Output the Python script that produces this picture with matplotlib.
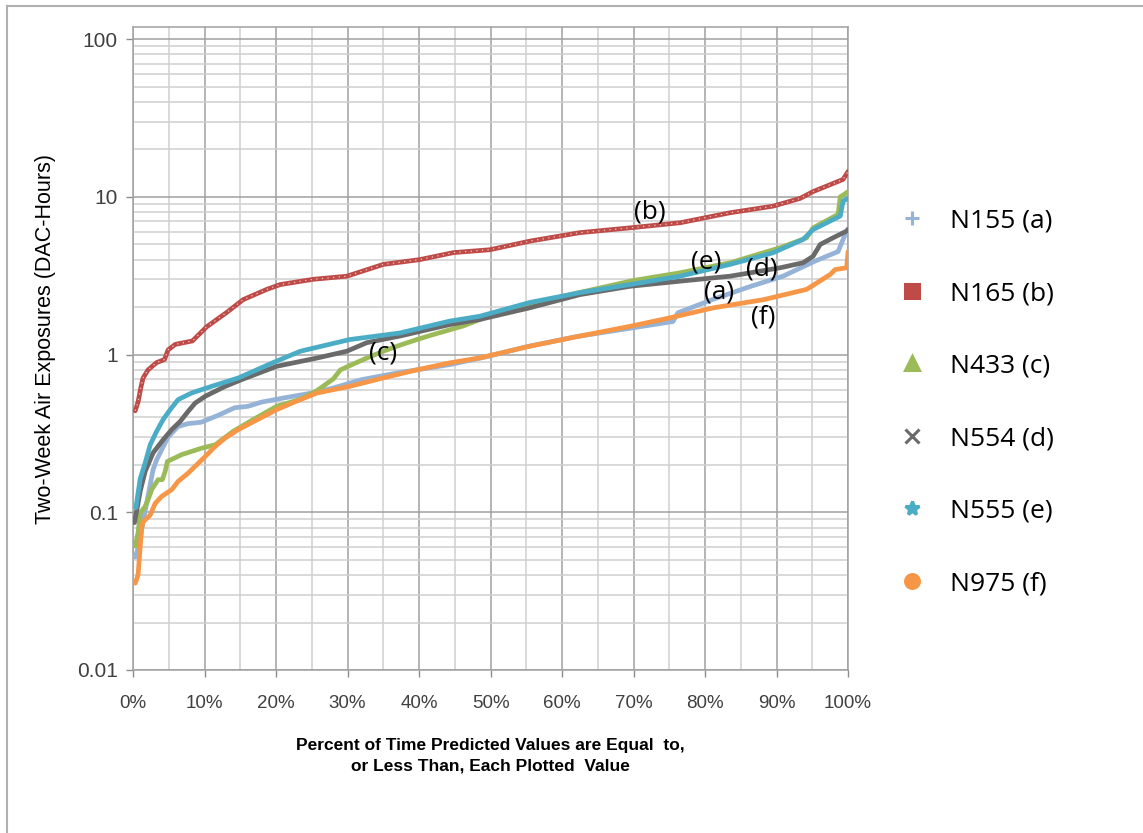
import numpy as np
import matplotlib
matplotlib.use("Agg")
from matplotlib import pyplot as plt
from matplotlib.lines import Line2D
from matplotlib.ticker import MultipleLocator, PercentFormatter, LogLocator, NullFormatter

# percent of time (x) and two-week exposure (y)
a_x = [0.3, 0.7, 1.0, 1.2, 2.8, 3.3, 4.9, 6.3, 7.7, 9.5, 11.8, 14.2, 16.1, 18.0, 21.0, 25.0, 28.0,
       32.0, 37.0, 44.3, 49.5, 55.0, 62.0, 70.0, 75.5, 76.2, 81.0, 86.4, 90.9, 95.3, 98.6, 99.6, 100]
a_y = [0.052, 0.059, 0.067, 0.078, 0.186, 0.215, 0.30, 0.35, 0.365, 0.372, 0.41, 0.46, 0.47, 0.50,
       0.53, 0.57, 0.614, 0.694, 0.765, 0.864, 0.97, 1.12, 1.30, 1.48, 1.62, 1.84, 2.23, 2.71, 3.14,
       3.9, 4.5, 5.8, 6.3]

b_x = [0.3, 0.7, 1.1, 1.4, 2.1, 3.3, 4.4, 4.9, 5.9, 8.3, 10.3, 13.1, 15.4, 18.7, 20.6, 25.2, 29.9,
       35.0, 40.1, 44.8, 49.9, 55.5, 62.5, 69.5, 76.5, 83.5, 89.5, 93.3, 95.1, 99.3, 100]
b_y = [0.44, 0.50, 0.62, 0.71, 0.80, 0.89, 0.93, 1.07, 1.16, 1.22, 1.50, 1.85, 2.23, 2.59, 2.78,
       3.0, 3.14, 3.73, 4.0, 4.43, 4.62, 5.24, 5.93, 6.36, 6.85, 7.93, 8.73, 9.78, 10.8, 12.9, 14.5]

c_x = [0.3, 0.7, 1.0, 1.7, 2.1, 2.6, 3.5, 4.1, 4.5, 4.8, 6.8, 9.6, 11.5, 14.0, 16.8, 20.1, 23.4,
       25.7, 28.0, 29.0, 32.2, 35.0, 36.9, 39.7, 42.0, 46.2, 49.0, 55.0, 62.0, 70.0, 76.5, 83.5,
       90.5, 94.2, 95.1, 98.6, 98.9, 99.5, 100]
c_y = [0.061, 0.074, 0.099, 0.109, 0.12, 0.139, 0.161, 0.161, 0.182, 0.21, 0.232, 0.255, 0.268,
       0.326, 0.387, 0.47, 0.52, 0.59, 0.70, 0.80, 0.93, 1.05, 1.13, 1.245, 1.34, 1.52, 1.70, 2.05,
       2.45, 2.95, 3.3, 3.82, 4.76, 5.5, 6.36, 7.74, 10.0, 10.4, 10.8]

d_x = [0.2, 0.7, 1.0, 1.7, 2.8, 4.2, 5.4, 6.6, 7.7, 8.7, 10.1, 12.9, 15.2, 20.1, 25.7, 29.9, 32.7,
       37.3, 44.3, 48.5, 55.5, 62.5, 69.5, 76.5, 83.5, 90.5, 93.7, 95.1, 96.1, 97.9, 99.8, 100]
d_y = [0.086, 0.114, 0.136, 0.182, 0.238, 0.288, 0.334, 0.377, 0.436, 0.493, 0.544, 0.629, 0.694,
       0.843, 0.95, 1.05, 1.19, 1.31, 1.55, 1.67, 1.98, 2.4, 2.71, 2.92, 3.14, 3.55, 3.82, 4.2,
       4.99, 5.5, 6.07, 6.2]

e_x = [0.4, 1.0, 1.7, 2.4, 3.3, 4.2, 5.2, 6.3, 8.2, 11.0, 14.7, 19.6, 23.4, 30.3, 37.3, 44.3, 48.5,
       55.5, 62.5, 69.5, 76.5, 83.5, 89.5, 93.7, 95.1, 98.9, 99.3, 100]
e_y = [0.107, 0.163, 0.206, 0.268, 0.326, 0.387, 0.448, 0.518, 0.571, 0.629, 0.71, 0.89, 1.05,
       1.245, 1.37, 1.63, 1.75, 2.14, 2.47, 2.78, 3.14, 3.73, 4.42, 5.37, 6.2, 7.56, 9.4, 9.8]

f_x = [0.3, 0.7, 1.2, 1.4, 2.4, 3.1, 4.0, 5.4, 6.3, 7.7, 8.9, 10.1, 11.5, 12.9, 14.7, 20.1, 23.4,
       25.7, 30.3, 35.0, 39.7, 44.3, 48.5, 55.5, 62.5, 69.5, 75.1, 81.2, 88.2, 94.2, 97.5, 98.2,
       99.8, 100]
f_y = [0.0355, 0.040, 0.079, 0.087, 0.096, 0.114, 0.126, 0.139, 0.157, 0.177, 0.20, 0.226, 0.262,
       0.296, 0.334, 0.448, 0.518, 0.57, 0.629, 0.711, 0.80, 0.886, 0.953, 1.13, 1.31, 1.51, 1.71,
       1.98, 2.23, 2.59, 3.22, 3.46, 3.55, 4.5]

names = ['N155 (a)', 'N165 (b)', 'N433 (c)', 'N554 (d)', 'N555 (e)', 'N975 (f)']
colors = ['#95b3d7', '#be4b48', '#9bbb59', '#6a6a6a', '#4bacc6', '#f79646']
markers = ['+', 's', '^', 'x', '*', 'o']
series = [(a_x, a_y), (b_x, b_y), (c_x, c_y), (d_x, d_y), (e_x, e_y), (f_x, f_y)]

# inline labels (text, x %, y)
tags = [('(b)', 72.3, 7.97), ('(e)', 80.1, 3.89), ('(d)', 88.0, 3.47),
        ('(a)', 82.0, 2.51), ('(f)', 88.1, 1.72), ('(c)', 35.0, 1.03)]

fig = plt.figure(figsize=(11.43, 8.33), dpi=100)
ax = fig.add_axes([0.1164, 0.1957, 0.6256, 0.7723])

for (xs, ys), c, m in zip(series, colors, markers):
    xs = np.array(xs) / 100.0
    ax.plot(xs, ys, color=c, lw=3.4, solid_joinstyle='round', solid_capstyle='round', zorder=3)
    if m == 's':
        # hollow square markers read as a red band with white specks
        ax.plot(xs, ys, color='white', lw=0.9, dashes=(1, 3.5), alpha=0.7, zorder=4)

for t, tx, ty in tags:
    ax.text(tx / 100.0, ty, t, ha='center', va='center', fontsize=19, family='Open Sans', zorder=5)

ax.set_yscale('log')
ax.set_ylim(0.01, 120)
ax.set_xlim(0, 1)
ax.xaxis.set_major_locator(MultipleLocator(0.1))
ax.xaxis.set_minor_locator(MultipleLocator(0.05))
ax.xaxis.set_major_formatter(PercentFormatter(1.0, decimals=0))
ax.yaxis.set_minor_locator(LogLocator(base=10, subs=np.arange(2, 10), numticks=20))
ax.yaxis.set_minor_formatter(NullFormatter())
ax.set_yticks([0.01, 0.1, 1, 10, 100])
ax.set_yticklabels(['0.01', '0.1', '1', '10', '100'])

ax.grid(which='major', color='#a0a0a0', lw=1.1)
ax.grid(which='minor', color='#d0d0d0', lw=1.1)
ax.set_axisbelow(True)
for sp in ax.spines.values():
    sp.set_color('#a0a0a0')
    sp.set_linewidth(1.1)

ax.tick_params(axis='y', which='major', length=5, width=1, color='#8c8c8c', pad=6,
               labelsize=15, labelcolor='#404040')
ax.tick_params(axis='x', which='major', length=5, width=1, color='#8c8c8c', pad=13,
               labelsize=13.5, labelcolor='#404040')
ax.tick_params(which='minor', length=0)
for lab in ax.get_xticklabels() + ax.get_yticklabels():
    lab.set_family('Liberation Sans')

ax.set_ylabel('Two-Week Air Exposures (DAC-Hours)', fontsize=15.5, family='Liberation Sans')
ax.yaxis.set_label_coords(-0.108, 0.515)
ax.set_xlabel('Percent of Time Predicted Values are Equal  to,\nor Less Than, Each Plotted  Value',
              fontsize=12.5, fontweight='bold', family='Liberation Sans',
              labelpad=19, linespacing=1.4)

handles = [Line2D([], [], ls='none', marker=m, color=c, mfc=c, ms=10, mew=2.2)
           for c, m in zip(colors, markers)]
fig.legend(handles, names, loc='upper left', bbox_to_anchor=(0.7633, 0.778), frameon=False,
           prop={'family': 'Open Sans', 'size': 19}, labelspacing=1.8, handletextpad=0.84,
           handlelength=1.2)

# outer chart frame
fig.add_artist(Line2D([7 / 1143, 7 / 1143], [0, 1 - 6 / 833], color='#b0b0b0', lw=1.5))
fig.add_artist(Line2D([7 / 1143, 1], [1 - 6 / 833, 1 - 6 / 833], color='#b0b0b0', lw=1.5))

fig.savefig('out.png', dpi=100)
